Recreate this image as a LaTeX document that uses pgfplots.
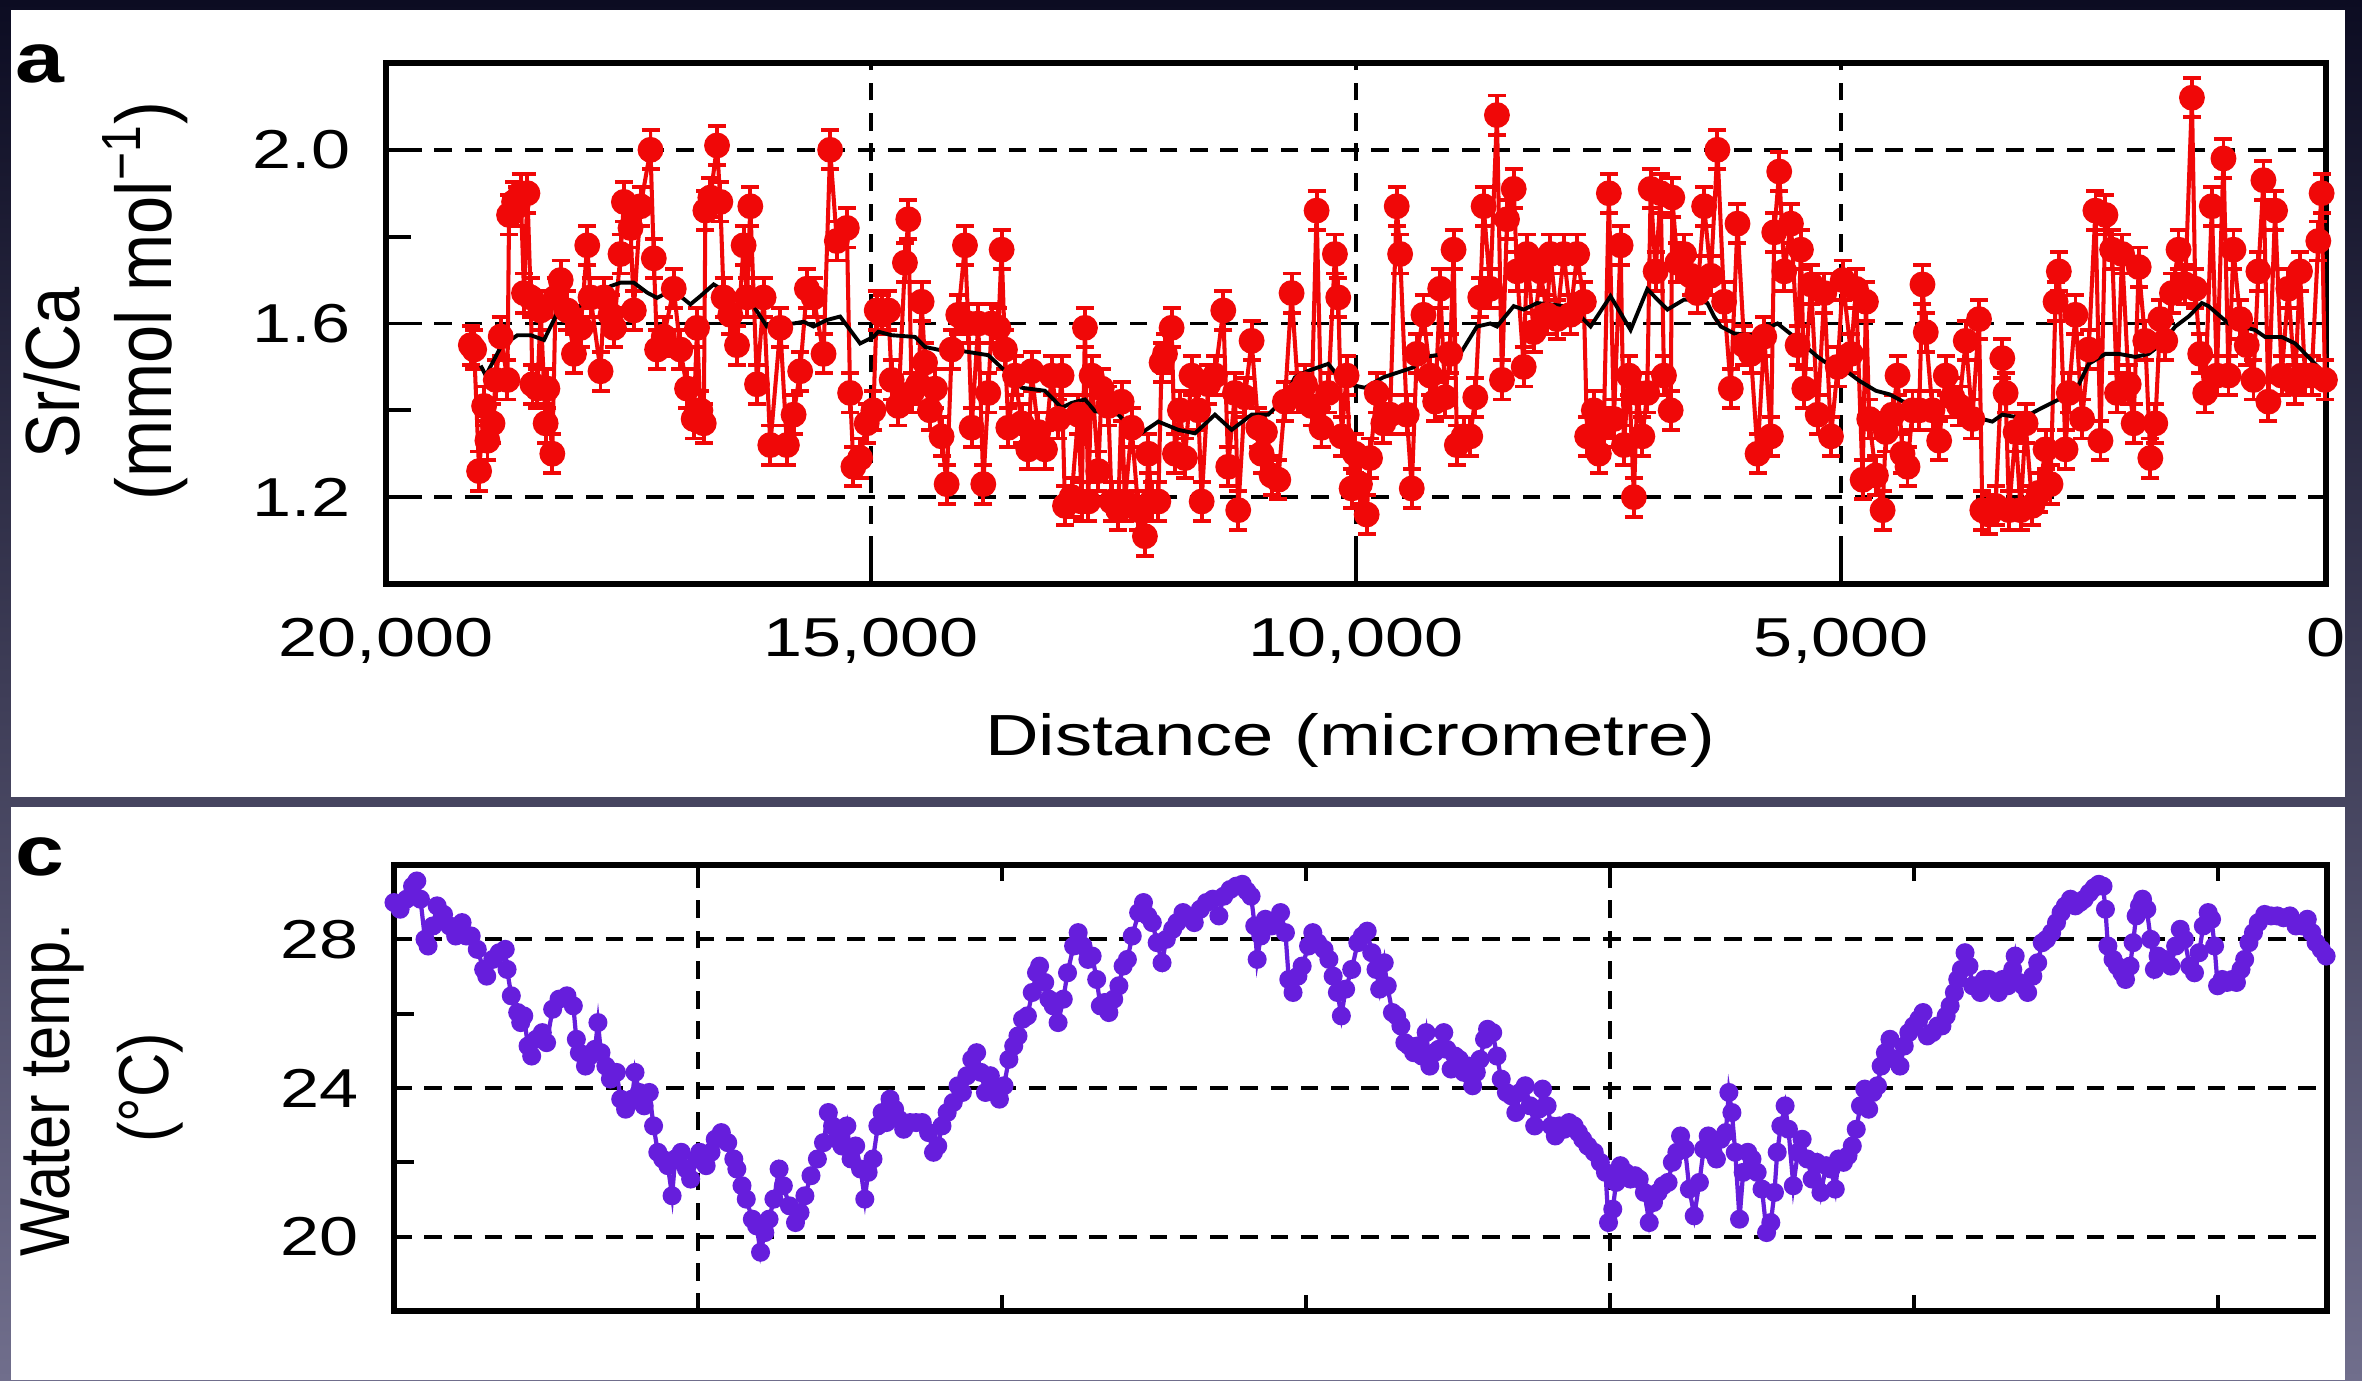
\documentclass[border=0pt]{standalone}
\usepackage{pgfplots}
\pgfplotsset{compat=1.18}
\usepackage{fontspec}
\setmainfont{Liberation Sans}
\definecolor{srred}{RGB}{240,8,8}
\definecolor{tpurp}{RGB}{102,30,220}
\definecolor{bgtop}{RGB}{12,12,34}
\definecolor{bgbot}{RGB}{112,110,140}
\begin{document}
\begin{tikzpicture}
\useasboundingbox (0,0) rectangle (23.62,13.80);
\shade[top color=bgtop, bottom color=bgbot] (0,0) rectangle (23.62,13.80);
\fill[white] (0.11,5.83) rectangle (23.45,13.70);
\fill[white] (0.11,0) rectangle (23.45,5.73);
\pgfplotsset{
  myaxis/.style={
    scale only axis,
    axis line style={line width=1.5pt},
    tick align=inside,
    every tick/.style={black, line width=1.1pt},
    major grid style={black, line width=1.1pt, dash pattern=on 5pt off 3.6pt},
    every tick label/.append style={font=\fontsize{15.6}{18}\selectfont, xscale=1.28},
    yticklabel style={inner sep=0pt, anchor=east, xshift=-0.27cm},
    scaled x ticks=false, scaled y ticks=false,
    clip=false,
  }
}
% ---------------- panel a ----------------
\begin{axis}[myaxis,
  at={(3.86cm,7.96cm)}, anchor=south west, width=19.40cm, height=5.21cm,
  x dir=reverse, xmin=0, xmax=20000, ymin=1.0, ymax=2.2,
  xtick={0,5000,10000,15000,20000},
  xticklabels={0,{5,000},{10,000},{15,000},{20,000}},
  ytick={1.2,1.6,2.0}, yticklabels={1.2,1.6,2.0},
  minor ytick={1.4,1.8},
  xmajorgrids, ymajorgrids,
  ytick pos=left, xtick pos=bottom,
  major tick length=0.3cm, minor tick length=0.25cm,
  xticklabel style={inner sep=0pt, anchor=north, yshift=-0.34cm},
]
\addplot[srred, line width=1.15pt, mark=*, mark size=3.1pt,
  mark options={solid, fill=srred, draw=srred},
  error bars/.cd, y dir=both, y fixed=0.045,
  error bar style={line width=1.1pt, srred},
  error mark options={rotate=90, srred, mark size=0.09cm, line width=1.1pt}]
table {
x y
19125 1.55
19091 1.54
19040 1.26
18988 1.41
18954 1.33
18902 1.37
18868 1.47
18817 1.57
18748 1.47
18731 1.85
18679 1.88
18645 1.87
18611 1.90
18577 1.67
18542 1.90
18508 1.66
18490 1.46
18439 1.45
18405 1.63
18354 1.37
18336 1.45
18285 1.30
18251 1.66
18199 1.70
18131 1.63
18062 1.53
17993 1.59
17925 1.78
17891 1.66
17788 1.49
17753 1.66
17685 1.62
17650 1.59
17582 1.76
17547 1.88
17479 1.82
17445 1.63
17376 1.87
17273 2.00
17239 1.75
17205 1.54
17136 1.57
17033 1.68
16965 1.54
16896 1.45
16828 1.38
16793 1.59
16759 1.40
16724 1.37
16707 1.86
16656 1.89
16587 2.01
16553 1.88
16519 1.66
16450 1.62
16381 1.55
16313 1.78
16278 1.66
16244 1.87
16175 1.46
16107 1.66
16038 1.32
15935 1.59
15867 1.32
15798 1.39
15730 1.49
15661 1.68
15592 1.66
15489 1.53
15421 2.00
15352 1.79
15249 1.82
15215 1.44
15181 1.27
15112 1.29
15044 1.37
14975 1.40
14941 1.63
14890 1.62
14821 1.63
14787 1.47
14718 1.41
14650 1.74
14615 1.84
14581 1.44
14512 1.46
14478 1.65
14443 1.51
14392 1.40
14340 1.45
14272 1.34
14220 1.23
14168 1.54
14100 1.62
14031 1.78
13997 1.60
13962 1.36
13894 1.60
13842 1.23
13791 1.44
13756 1.60
13687 1.59
13653 1.77
13619 1.54
13584 1.36
13516 1.48
13447 1.37
13378 1.31
13344 1.49
13275 1.35
13206 1.31
13138 1.48
13069 1.38
13035 1.48
13000 1.18
12932 1.20
12863 1.39
12828 1.19
12794 1.59
12760 1.19
12725 1.48
12657 1.26
12622 1.45
12554 1.41
12519 1.19
12451 1.17
12416 1.42
12382 1.19
12313 1.36
12244 1.17
12176 1.11
12141 1.30
12107 1.19
12038 1.19
12004 1.51
11969 1.53
11901 1.59
11866 1.30
11815 1.40
11763 1.29
11695 1.48
11626 1.40
11591 1.19
11523 1.46
11454 1.48
11368 1.63
11317 1.27
11248 1.44
11214 1.17
11145 1.43
11076 1.56
11007 1.36
10973 1.30
10939 1.35
10870 1.25
10801 1.24
10733 1.42
10664 1.67
10595 1.44
10526 1.46
10458 1.41
10406 1.86
10355 1.36
10286 1.44
10217 1.76
10183 1.66
10148 1.34
10097 1.48
10045 1.22
10011 1.30
9959 1.23
9890 1.16
9855 1.29
9786 1.44
9718 1.37
9649 1.39
9580 1.87
9545 1.76
9477 1.39
9425 1.22
9373 1.53
9304 1.62
9235 1.48
9184 1.42
9132 1.68
9080 1.43
9029 1.53
8994 1.77
8960 1.32
8891 1.34
8822 1.34
8770 1.43
8719 1.66
8684 1.87
8616 1.68
8547 2.08
8495 1.47
8443 1.84
8374 1.91
8340 1.72
8271 1.50
8237 1.76
8168 1.58
8099 1.72
8030 1.62
7996 1.76
7927 1.61
7858 1.76
7789 1.62
7720 1.76
7651 1.65
7617 1.34
7548 1.40
7496 1.30
7445 1.36
7393 1.90
7341 1.38
7272 1.78
7238 1.32
7186 1.48
7135 1.20
7100 1.44
7048 1.34
6997 1.44
6962 1.91
6911 1.72
6859 1.90
6825 1.48
6756 1.40
6739 1.89
6687 1.74
6618 1.76
6549 1.71
6480 1.67
6411 1.87
6342 1.71
6274 2.00
6205 1.65
6136 1.45
6067 1.83
5998 1.55
5929 1.53
5860 1.30
5791 1.57
5722 1.34
5688 1.81
5637 1.95
5585 1.72
5516 1.83
5447 1.55
5413 1.77
5378 1.45
5309 1.69
5240 1.39
5172 1.67
5103 1.34
5034 1.50
4982 1.70
4897 1.53
4846 1.68
4777 1.24
4743 1.65
4709 1.38
4640 1.25
4571 1.17
4537 1.35
4469 1.39
4417 1.48
4366 1.30
4314 1.27
4263 1.40
4194 1.40
4160 1.69
4126 1.58
4057 1.40
3988 1.33
3920 1.48
3851 1.43
3783 1.41
3714 1.56
3646 1.38
3577 1.61
3543 1.17
3474 1.16
3406 1.18
3337 1.52
3303 1.44
3268 1.17
3200 1.35
3148 1.17
3097 1.37
3028 1.18
2960 1.21
2891 1.31
2840 1.23
2788 1.65
2754 1.72
2685 1.31
2651 1.44
2583 1.62
2514 1.38
2446 1.54
2377 1.86
2325 1.33
2274 1.85
2205 1.77
2154 1.44
2102 1.76
2034 1.46
1983 1.37
1931 1.73
1863 1.56
1811 1.29
1760 1.37
1708 1.61
1657 1.56
1588 1.67
1520 1.77
1451 1.69
1382 2.12
1348 1.68
1297 1.53
1245 1.44
1177 1.87
1125 1.48
1057 1.98
1005 1.48
954 1.77
885 1.61
817 1.55
748 1.47
697 1.72
645 1.93
594 1.42
525 1.86
457 1.48
388 1.68
319 1.46
268 1.72
217 1.48
148 1.48
79 1.79
45 1.90
11 1.47
};
\addplot[black, line width=1.1pt, no marks] table {
x y
19023 1.503
18971 1.480
18817 1.546
18645 1.573
18508 1.573
18371 1.562
18234 1.624
18062 1.632
17959 1.647
17822 1.663
17685 1.686
17582 1.694
17445 1.694
17307 1.671
17205 1.659
17102 1.671
16965 1.663
16862 1.644
16759 1.663
16622 1.690
16484 1.671
16347 1.663
16210 1.640
16073 1.593
15935 1.600
15798 1.600
15695 1.604
15592 1.593
15455 1.608
15318 1.616
15215 1.585
15112 1.554
14975 1.569
14924 1.581
14787 1.573
14546 1.569
14443 1.546
14272 1.538
14100 1.538
13791 1.527
13619 1.491
13447 1.452
13206 1.445
13035 1.406
12932 1.417
12794 1.425
12691 1.398
12451 1.390
12244 1.343
12038 1.374
11832 1.355
11660 1.347
11454 1.390
11282 1.355
11076 1.390
10904 1.390
10733 1.429
10629 1.476
10492 1.491
10286 1.507
10217 1.488
10080 1.460
9908 1.452
9718 1.476
9408 1.499
9304 1.523
9167 1.527
8926 1.530
8753 1.593
8616 1.600
8547 1.593
8374 1.640
8271 1.632
8133 1.647
7996 1.644
7858 1.640
7720 1.624
7582 1.593
7376 1.663
7169 1.585
6997 1.679
6790 1.632
6618 1.655
6515 1.655
6377 1.647
6308 1.616
6239 1.593
6101 1.577
5929 1.573
5654 1.600
5481 1.569
5240 1.523
5034 1.491
4949 1.491
4811 1.468
4640 1.445
4503 1.437
4366 1.421
4229 1.413
4023 1.413
3886 1.413
3748 1.390
3577 1.382
3440 1.374
3337 1.390
3131 1.382
2925 1.406
2720 1.429
2548 1.460
2446 1.507
2274 1.530
2137 1.530
1965 1.523
1828 1.530
1691 1.554
1554 1.593
1417 1.616
1280 1.647
1211 1.640
1005 1.600
868 1.593
731 1.585
628 1.569
457 1.569
319 1.554
182 1.523
79 1.499
11 1.483
};
\end{axis}
% ---------------- panel c ----------------
\begin{axis}[myaxis,
  at={(3.94cm,0.69cm)}, anchor=south west, width=19.33cm, height=4.46cm,
  xmin=0, xmax=636, ymin=18, ymax=30,
  xtick={200,300,500,600}, xticklabels={},
  extra x ticks={100,400}, extra x tick labels={},
  extra x tick style={grid=major},
  ytick={20,24,28}, yticklabels={20,24,28},
  minor ytick={22,26},
  ymajorgrids,
  ytick pos=left, xtick pos=both,
  major tick length=0.16cm, minor tick length=0.2cm,
]
\addplot[tpurp, line width=1.2pt, mark=*, mark size=2.1pt,
  mark options={solid, fill=tpurp, draw=tpurp}]
table {
x y
0 28.99
2.0 28.81
4.1 29.08
6.1 29.43
7.5 29.57
8.7 29.08
10.2 28.00
11.2 27.82
12.8 28.36
14.2 28.90
16.3 28.67
18.3 28.36
20.3 28.09
22.4 28.45
23.8 28.09
25.4 28.09
27.4 27.73
29.5 27.19
30.5 27.01
32.5 27.46
34.6 27.64
36.6 27.73
37.2 27.19
38.6 26.48
40.7 26.03
41.7 25.76
42.7 25.94
44.1 25.13
45.3 24.86
46.8 25.31
48.8 25.49
50.2 25.22
52.2 26.12
54.3 26.39
56.9 26.48
59.0 26.21
60.0 25.31
61.0 24.95
63.0 24.59
64.4 24.86
66.1 25.04
67.1 25.76
68.1 24.95
69.7 24.59
71.2 24.24
73.2 24.42
74.6 23.70
76.2 23.43
78.3 23.70
79.3 24.42
80.7 23.88
82.3 23.52
84.0 23.88
85.4 22.98
86.8 22.27
88.4 22.09
90.1 21.91
91.5 21.10
92.5 22.09
94.5 22.27
96.2 21.82
97.6 21.55
99.6 22.09
100.6 22.27
102.7 21.91
104.3 22.27
105.7 22.62
107.7 22.80
109.8 22.53
111.8 22.09
112.8 21.82
114.5 21.37
115.9 21.01
117.9 20.47
119.3 20.29
120.6 19.58
122.0 20.11
123.4 20.47
125.0 21.01
126.7 21.82
128.1 21.37
130.1 20.83
132.1 20.38
133.6 20.65
135.2 21.10
137.2 21.64
139.3 22.09
141.3 22.53
142.9 23.34
144.3 22.98
145.8 22.62
147.4 22.44
149.0 22.98
150.4 22.09
151.9 22.44
153.5 21.82
154.9 21.01
156.0 21.73
157.6 22.09
159.2 22.98
160.6 23.34
162.0 23.07
163.2 23.70
164.7 23.43
166.1 23.16
167.7 22.89
169.8 23.07
171.8 23.07
173.8 23.07
175.9 22.80
177.5 22.27
178.9 22.44
180.3 22.98
182.0 23.34
184.0 23.61
185.6 24.06
187.0 23.88
188.5 24.33
190.1 24.77
191.7 24.95
193.1 24.42
194.6 23.88
196.2 24.33
197.8 23.88
199.2 23.70
200.7 24.06
202.3 24.77
203.9 25.13
205.3 25.40
206.8 25.85
208.4 25.94
210.0 26.57
211.4 27.10
212.4 27.28
214.1 26.84
215.5 26.39
216.9 26.21
218.5 25.76
220.2 26.39
221.6 27.10
223.6 27.82
225.1 28.18
226.7 27.82
228.3 27.46
229.7 27.55
231.2 26.92
232.4 26.21
233.8 26.30
235.2 26.03
236.8 26.39
238.5 26.75
239.9 27.28
241.3 27.46
242.9 28.09
245.0 28.72
246.6 28.99
248.0 28.63
249.5 28.45
251.1 27.91
252.7 27.37
254.1 28.00
256.2 28.27
257.6 28.45
259.6 28.72
261.6 28.63
263.3 28.45
265.3 28.81
267.3 28.99
269.4 29.08
271.4 28.63
273.0 29.16
275.1 29.34
277.1 29.43
279.1 29.48
280.6 29.30
282.0 29.16
283.2 28.36
284.0 27.46
285.2 28.09
286.7 28.54
288.7 28.36
290.1 28.45
291.7 28.72
293.3 28.18
294.4 26.92
295.8 26.57
297.4 27.01
298.8 27.28
300.9 27.82
302.3 28.18
303.9 27.91
306.0 27.73
307.6 27.46
309.0 27.01
310.4 26.57
311.7 25.94
313.1 26.66
315.1 27.19
317.1 27.91
318.6 28.09
320.2 28.22
321.7 27.64
323.1 27.19
324.3 26.66
325.8 27.37
326.8 26.75
328.5 26.03
329.9 25.94
331.3 25.67
332.6 25.22
334.0 25.13
335.5 24.95
336.7 25.13
338.2 24.86
339.6 25.49
340.8 24.59
342.3 24.95
343.7 25.04
345.4 25.49
346.4 25.04
347.8 24.51
349.1 24.86
350.5 24.77
352.0 24.42
353.6 24.59
354.9 24.06
356.1 24.42
357.3 24.77
358.8 25.31
359.8 25.58
361.5 25.49
362.9 24.86
364.3 24.24
366.0 23.88
367.6 23.79
369.1 23.34
370.5 23.88
372.2 24.06
373.8 23.52
375.3 22.98
376.7 23.43
377.9 23.97
379.4 23.52
380.8 22.98
382.1 22.71
383.5 22.98
385.0 22.89
386.6 23.07
388.3 22.98
389.7 22.80
391.1 22.62
392.8 22.44
394.9 22.27
396.9 22.00
398.6 21.73
399.6 20.38
401.0 20.74
402.1 21.46
403.5 21.91
405.2 21.73
406.8 21.55
408.3 21.64
409.7 21.55
411.4 21.19
413.0 20.38
414.4 20.92
415.9 21.19
417.5 21.37
419.2 21.46
420.6 22.00
422.1 22.27
423.3 22.71
424.8 22.36
426.2 21.28
427.8 20.56
429.5 21.46
430.9 22.36
432.4 22.71
434.0 22.27
435.1 22.09
436.5 22.62
438.2 22.80
439.2 23.88
440.2 23.34
441.3 22.27
442.7 20.47
443.9 21.73
445.4 22.27
446.8 22.09
448.5 21.73
450.1 21.28
451.6 20.11
453.0 20.38
454.2 21.19
455.1 22.27
456.3 22.98
457.7 23.52
458.8 22.89
460.4 21.37
461.9 22.27
463.3 22.62
465.0 22.09
466.6 21.55
468.1 22.00
469.5 21.19
471.2 21.91
472.8 21.82
474.2 21.28
475.3 22.09
476.9 22.00
478.4 22.18
479.8 22.44
481.1 22.89
482.5 23.52
483.9 23.97
485.2 23.43
486.6 23.88
488.1 24.06
489.3 24.59
490.7 24.95
492.2 25.31
493.8 24.77
495.5 24.59
496.9 25.13
498.4 25.49
500.0 25.67
501.7 25.85
503.1 26.03
504.5 25.40
506.2 25.49
507.9 25.67
509.3 25.67
510.7 25.94
512.0 26.21
513.4 26.57
514.5 26.92
515.7 27.19
516.9 27.64
518.2 27.28
519.4 26.75
520.6 26.75
521.9 26.57
523.3 26.92
524.8 26.92
526.4 26.75
527.9 26.57
529.3 26.92
531.0 26.75
532.6 27.19
533.4 27.55
534.7 26.84
536.1 26.75
537.5 26.57
539.2 27.01
540.8 27.37
542.3 27.91
543.7 28.00
545.4 28.18
547.0 28.45
548.5 28.72
549.9 28.90
551.6 29.08
553.2 28.90
554.7 28.99
556.1 29.08
557.8 29.25
559.4 29.39
560.9 29.48
562.3 29.43
563.1 28.81
563.9 27.82
565.6 27.46
567.0 27.28
568.5 27.10
569.7 26.92
571.2 27.28
572.2 27.91
573.2 28.63
574.3 28.90
575.3 29.08
576.7 28.81
578.0 28.00
579.2 27.19
580.4 27.55
582.5 27.46
584.6 27.28
586.2 27.82
587.7 28.27
589.1 28.00
590.8 27.28
592.4 27.10
593.9 27.64
595.3 28.36
596.9 28.72
598.0 28.54
599.0 27.82
600.0 26.75
601.5 26.92
603.1 26.84
604.8 26.92
606.2 26.84
607.7 27.19
608.9 27.46
610.3 27.91
611.8 28.18
613.4 28.45
615.5 28.67
617.6 28.63
619.6 28.63
621.7 28.58
623.8 28.63
625.8 28.36
627.9 28.36
629.5 28.54
631.0 28.18
632.4 27.91
634.1 27.73
635.7 27.55
};
\end{axis}
% ---------------- labels ----------------
\node[font=\fontsize{20}{24}\selectfont\bfseries, xscale=1.25] at (0.40,13.16) {a};
\node[font=\fontsize{20}{24}\selectfont\bfseries, xscale=1.25] at (0.40,5.23) {c};
\node[rotate=90, yscale=1.15, font=\fontsize{19}{23}\selectfont] at (0.52,10.07) {Sr/Ca};
\node[rotate=90, yscale=1.15, font=\fontsize{19.5}{23}\selectfont] at (1.45,10.79) {(mmol mol\textsuperscript{−1})};
\node[font=\fontsize{16.5}{20}\selectfont, xscale=1.28] at (13.50,6.40) {Distance (micrometre)};
\node[rotate=90, yscale=1.15, font=\fontsize{17.5}{21}\selectfont] at (0.53,2.90) {Water temp.};
\node[rotate=90, yscale=1.15, font=\fontsize{17.5}{21}\selectfont] at (1.50,2.92) {(°C)};
\end{tikzpicture}
\end{document}
